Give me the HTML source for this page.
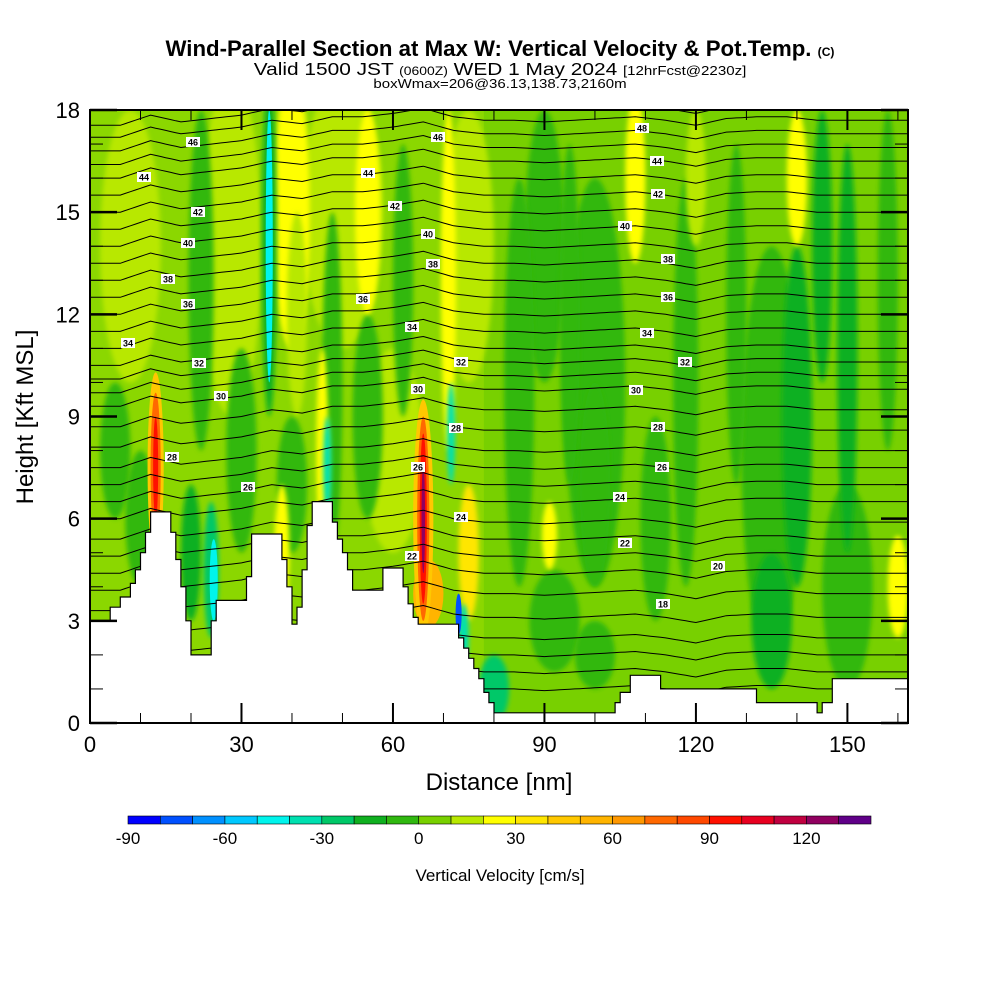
<!DOCTYPE html>
<html><head><meta charset="utf-8"><style>
body{margin:0;background:#fff;}
svg{display:block;font-family:"Liberation Sans",sans-serif;}
</style></head><body>
<svg id="c" width="1000" height="1000" viewBox="0 0 1000 1000">
<g>
<text x="500" y="56" text-anchor="middle" font-size="22" font-weight="bold" transform="translate(500,0) scale(1.01,1) translate(-500,0)">Wind-Parallel Section at Max W: Vertical Velocity &amp; Pot.Temp. <tspan font-size="12">(C)</tspan></text>
<text x="500" y="75" text-anchor="middle" font-size="18" transform="translate(500,0) scale(1.16,1) translate(-500,0)">Valid 1500 JST <tspan font-size="12">(0600Z)</tspan> WED 1 May 2024 <tspan font-size="13">[12hrFcst@2230z]</tspan></text>
<text x="500" y="88" text-anchor="middle" font-size="12.5" transform="translate(500,0) scale(1.2,1) translate(-500,0)">boxWmax=206@36.13,138.73,2160m</text>
</g>
<defs><clipPath id="pc"><rect x="90" y="110" width="818" height="613"/></clipPath>
<filter id="bl" x="-50%" y="-50%" width="200%" height="200%"><feGaussianBlur stdDeviation="2.5"/></filter></defs>
<g id="field" clip-path="url(#pc)"></g>
<g id="isen" clip-path="url(#pc)"></g>
<g id="terrain"></g>
<g id="labels"></g>
<g id="axes"></g>
<g id="cbar"></g>
</svg>
<script>
const NS="http://www.w3.org/2000/svg";
const xTicks=[0,30,60,90,120,150];
const yTicks=[0,3,6,9,12,15,18];
const cbLevels=[-90,-80,-70,-60,-50,-40,-30,-20,-10,0,10,20,30,40,50,60,70,80,90,100,110,120,130,140];
const cbColors=["#0000ff","#0050ff","#0090ff","#00c8ff","#00f4ec","#00e0b0","#00c868","#10b020","#30b810","#78d000","#b8e800","#ffff00","#ffe600","#ffc800","#ffb400","#ff9800","#ff6800","#ff4800","#ff1000","#e80020","#c00040","#900060","#600088"];
const cbTickLabels=[-90,-60,-30,0,30,60,90,120];
// terrain profile: distance (nm), height (kft)
const terrX=[0,2,4,6,8,9,10,11,12,15,16,17,18,19,20,23,24,25,26,27,28,31,32,37,38,39,40,41,42,43,44,47,48,49,50,51,52,57,58,61,62,63,64,65,72,73,74,75,76,77,78,79,80,102,104,105,107,112,113,115,116,131,132,143,144,145,147,162];
const terrH=[3.0,3.0,3.4,3.7,4.1,4.5,5.0,5.6,6.2,6.2,5.6,4.8,4.0,3.0,2.0,2.0,3.0,3.6,3.6,3.6,3.6,4.3,5.55,5.55,4.8,4.0,2.9,3.4,4.5,5.8,6.5,6.5,5.9,5.4,5.0,4.5,3.9,3.9,4.55,4.55,4.0,3.5,3.1,2.9,2.9,2.5,2.2,1.9,1.6,1.3,0.9,0.6,0.3,0.3,0.6,0.9,1.4,1.4,1.0,1.0,1.0,1.0,0.6,0.6,0.3,0.6,1.3,1.3];
// potential temperature levels (K) and base heights (kft)
const thetaLevels=[14,15,16,17,18,19,20,21,22,23,24,25,26,27,28,29,30,31,32,33,34,35,36,37,38,39,40,41,42,43,44,45,46,47,48];
const thetaBase=[1.0,1.5,2.0,2.5,3.1,3.8,4.4,4.9,5.4,5.9,6.5,7.0,7.5,8.0,8.6,9.2,9.8,10.2,10.6,11.0,11.5,12.0,12.5,13.0,13.5,14.0,14.5,15.0,15.5,16.0,16.5,16.9,17.3,17.7,18.05];
const wobX=[0,6,12,18,24,30,36,42,48,54,60,66,72,78,84,90,96,102,108,114,120,126,132,138,144,150,156,162];
const wobY=[-0.5,-0.5,-0.2,-0.4,-0.3,-0.2,0,-0.1,0.1,0.1,0.2,0.35,0.1,0,0,-0.05,0,0.05,0.1,0,-0.15,0.05,0.1,0.1,0,0,0,0];
// vertical velocity patches: x(nm), height(kft), half-width(nm), half-height(kft), w(cm/s)
const wX=[100,135,90,150,40,8,28,50,60,75,22,5,30,48,62,20,40,85,95,100,118,128,140,150,158,92,135,100,112,145,10,55,40,41,46,55,38,71,75,91,108,140,120,160,35.5,35.5,24,24.5,47,71.5,74,73,80,13,13,13,67,66,66,66,66];
const wZ=[10,8,14,4,15,14,14,15,8,14,13,8,8,10,13,5,7,10,12,7,10,12,9,11,13,3,3,2,6,14,6,9,15,12,8,15,5,13,5,5.5,16,16,16,4,14,14,4.5,4.2,7.5,8.5,2.5,3.2,1,7.5,7.5,7.5,3.8,6,6,6,6];
const wRX=[6,6,4,5,4,6,6,8,6,5,2.5,3,3,2,2,2,3,3,2,3,2.5,2,3,2,2,5,4,4,3,2,3,3,3.5,2,1.2,2.5,1.5,1.5,2,1.5,2,2,2,2,1.5,0.7,1.5,0.8,0.8,0.8,1,0.6,3,1.6,1,0.5,3,2,1.2,0.7,0.35];
const wRZ=[6,6,4,3,4,4,5,4,3,4,5,2,3,5,4,2,2,6,5,3,6,5,5,6,5,1.5,2,1,3,4,2,3,4,3,3,3,2,5,2,1,2.5,2,2,1.5,5,4,2,1.2,1.5,1.5,1,0.6,1,2.8,2.2,1.5,1,3.5,3,2.5,1.6];
const wVal=[-5,-5,-5,-5,15,15,15,15,15,15,-5,-5,-5,-5,-5,-15,-5,-5,-5,-5,-5,-5,-15,-15,-5,-5,-15,-5,-5,-15,-5,-5,25,15,25,25,25,25,35,25,25,25,15,25,-15,-45,-25,-45,-35,-35,-35,-75,-25,45,75,95,55,45,75,95,125];

const labPX=[193,144,198,188,168,188,128,199,221,172,248,438,368,395,428,433,363,412,461,418,456,418,461,412,642,657,658,625,668,668,647,685,636,658,662,620,625,718,663];
const labPY=[142,177,212,243,279,304,343,363,396,457,487,137,173,206,234,264,299,327,362,389,428,467,517,556,128,161,194,226,259,297,333,362,390,427,467,497,543,566,604];
const labTxt=["46","44","42","40","38","36","34","32","30","28","26","46","44","42","40","38","36","34","32","30","28","26","24","22","48","44","42","40","38","36","34","32","30","28","26","24","22","20","18"];

const X0=90,X1=908,Y0=723,Y1=110,XMAX=162,YMAX=18;
const sx=v=>X0+v*(X1-X0)/XMAX;
const sy=v=>Y0-v*(Y0-Y1)/YMAX;
const cbx=v=>128+(v+90)*(871-128)/230;
function col(v){for(let i=0;i<cbColors.length;i++){if(v<cbLevels[i+1])return cbColors[i];}return cbColors[cbColors.length-1];}
function mk(t,a,p){const e=document.createElementNS(NS,t);for(const k in a)e.setAttribute(k,a[k]);p.appendChild(e);return e;}

const field=document.getElementById('field');
const bg=mk('rect',{x:X0,y:Y1,width:X1-X0,height:Y0-Y1,fill:col(5)},field);


const bgl=mk('rect',{x:X0,y:Y1,width:sx(78)-X0,height:Y0-Y1,fill:col(15),opacity:0.3},field);


for(let i=0;i<wX.length;i++){
  const e=mk('ellipse',{cx:sx(wX[i]),cy:sy(wZ[i]),rx:Math.abs(sx(wRX[i])-sx(0)),ry:Math.abs(sy(0)-sy(wRZ[i])),fill:col(wVal[i])},field);
  if(Math.abs(wVal[i])<40)e.setAttribute('filter','url(#bl)');
  
  
}
function wob(x){for(let i=0;i<wobX.length-1;i++){if(x<=wobX[i+1]){const t=(x-wobX[i])/(wobX[i+1]-wobX[i]);return wobY[i]+t*(wobY[i+1]-wobY[i]);}}return 0;}
const isen=document.getElementById('isen');
for(let j=0;j<thetaLevels.length;j++){
  let d="";
  for(let x=0;x<=162;x+=1){const h=thetaBase[j]+wob(x);d+=(x?"L":"M")+sx(x).toFixed(1)+","+sy(h).toFixed(1);}
  const p=mk('path',{d:d,fill:"none",stroke:"#000","stroke-width":1},isen);
  
  
}
const ter=document.getElementById('terrain');
let td="M"+sx(0)+","+sy(0);
for(let i=0;i<terrX.length;i++){td+="L"+sx(terrX[i]).toFixed(1)+","+sy(terrH[i]).toFixed(1);if(i<terrX.length-1)td+="L"+sx(terrX[i+1]).toFixed(1)+","+sy(terrH[i]).toFixed(1);}
td+="L"+sx(162)+","+sy(0)+"Z";
const tp=mk('path',{d:td,fill:"#fff",stroke:"#000","stroke-width":1.2},ter);



const labs=document.getElementById('labels');
for(let i=0;i<labTxt.length;i++){
  const r=mk('rect',{x:labPX[i]-7,y:labPY[i]-5,width:14,height:10,fill:"#fff"},labs);
  
  
  const t=mk('text',{x:labPX[i],y:labPY[i]+3.5,"font-size":9,"font-weight":"bold","text-anchor":"middle"},labs);
  t.textContent=labTxt[i];
  
  
}

const ax=document.getElementById('axes');
const fr=mk('rect',{x:X0,y:Y1,width:X1-X0,height:Y0-Y1,fill:"none",stroke:"#000","stroke-width":2},ax);


for(let v=0;v<=162;v+=10){const major=v%30===0;const L=major?20:10;
  mk('line',{x1:sx(v),x2:sx(v),y1:Y0,y2:Y0-L,stroke:"#000","stroke-width":major?2:1},ax);
  mk('line',{x1:sx(v),x2:sx(v),y1:Y1,y2:Y1+L,stroke:"#000","stroke-width":major?2:1},ax);}
for(let v=0;v<=18;v+=1){const major=v%3===0;const L=major?27:13;
  mk('line',{x1:X0,x2:X0+L,y1:sy(v),y2:sy(v),stroke:"#000","stroke-width":major?2.5:1},ax);
  mk('line',{x1:X1,x2:X1-L,y1:sy(v),y2:sy(v),stroke:"#000","stroke-width":major?2.5:1},ax);}
xTicks.forEach(v=>{const t=mk('text',{x:sx(v),y:752,"font-size":22,"text-anchor":"middle"},ax);t.textContent=v;
  
  });
yTicks.forEach(v=>{const t=mk('text',{x:80,y:sy(v)+8,"font-size":22,"text-anchor":"end"},ax);t.textContent=v;
  
  });
const xt=mk('text',{x:499,y:790,"font-size":24,"text-anchor":"middle"},ax);xt.textContent="Distance [nm]";


const yt=mk('text',{x:0,y:0,"font-size":24,"text-anchor":"middle",transform:"translate(33,417) rotate(-90)"},ax);yt.textContent="Height [Kft MSL]";



const cb=document.getElementById('cbar');
for(let i=0;i<cbColors.length;i++){
  const r=mk('rect',{x:cbx(cbLevels[i]),y:816,width:cbx(cbLevels[i+1])-cbx(cbLevels[i]),height:8,fill:cbColors[i],stroke:"#000","stroke-width":0.6},cb);
  
  
}
cbTickLabels.forEach(v=>{const t=mk('text',{x:cbx(v),y:844,"font-size":17,"text-anchor":"middle"},cb);t.textContent=v;
  
  });
const ct=mk('text',{x:500,y:881,"font-size":17,"text-anchor":"middle"},cb);ct.textContent="Vertical Velocity [cm/s]";


</script>
</body></html>
